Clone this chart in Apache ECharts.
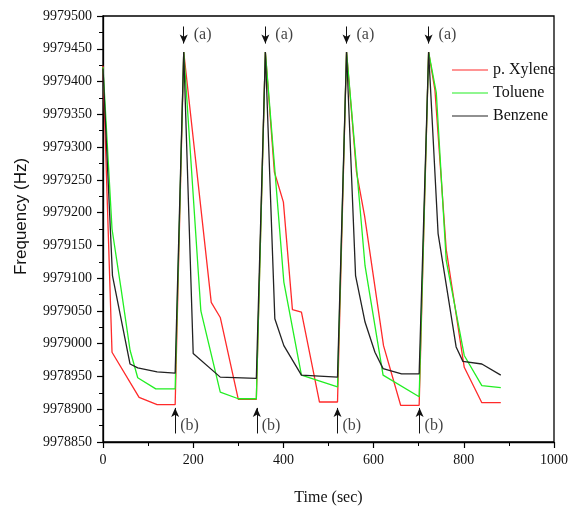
<!DOCTYPE html>
<html>
<head>
<meta charset="utf-8">
<script src="https://cdn.jsdelivr.net/npm/echarts@6/dist/echarts.min.js"></script>
<style>html,body{margin:0;padding:0;background:#fff;}#c{width:571px;height:511px;}</style>
</head>
<body>
<div id="c"></div>
<script>
// ---- data ----
var xyleneT = [0, 20, 80, 120, 160, 179, 240, 260, 300, 340, 360, 380, 400, 420, 440, 480, 520, 540, 562, 580, 622, 660, 701, 722, 736, 761, 801, 840, 882];
var xyleneF = [9979424, 9978987, 9978918, 9978907, 9978907, 9979445, 9979063, 9979040, 9978915, 9978915, 9979445, 9979262, 9979216, 9979052, 9979048, 9978911, 9978911, 9979445, 9979262, 9979195, 9978997, 9978906, 9978906, 9979445, 9979387, 9979144, 9978964, 9978910, 9978910];

var tolueneT = [0, 20, 40, 60, 77, 117, 160, 179, 217, 260, 300, 340, 360, 401, 440, 520, 540, 581, 621, 701, 722, 739, 761, 801, 840, 882];
var tolueneF = [9979422, 9979175, 9979084, 9978990, 9978948, 9978931, 9978931, 9979445, 9979050, 9978926, 9978916, 9978916, 9979445, 9979094, 9978952, 9978934, 9979445, 9979119, 9978952, 9978919, 9979445, 9979383, 9979127, 9978982, 9978936, 9978933];

var benzeneT = [0, 21, 60, 77, 120, 160, 179, 200, 260, 340, 360, 381, 401, 440, 520, 540, 560, 581, 603, 621, 662, 701, 722, 743, 783, 798, 840, 882];
var benzeneF = [9979420, 9979104, 9978969, 9978963, 9978957, 9978955, 9979445, 9978985, 9978949, 9978947, 9979445, 9979038, 9978997, 9978952, 9978949, 9979445, 9979104, 9979033, 9978987, 9978962, 9978954, 9978954, 9979445, 9979168, 9978995, 9978973, 9978969, 9978952];

// annotation positions (time, in data units)
var aTimes = [179, 360, 540, 722];
var bTimes = [160, 341, 520, 702];
var aArrowTop = 9979484, aArrowBottom = 9979458, aLabelY = 9979471;
var bArrowBottom = 9978863, bArrowTop = 9978902, bLabelY = 9978875;

var xTicks = [0, 200, 400, 600, 800, 1000];
var yMin = 9978850, yMax = 9979500, yStep = 50;

function pairs(t, f) { return t.map(function (v, i) { return [v, f[i]]; }); }

var FONT = "'Liberation Serif','Times New Roman',serif";
var chart = echarts.init(document.getElementById('c'), null, { renderer: 'canvas' });

var lineSeries = function (name, t, f, color) {
  return {
    name: name, type: 'line', data: pairs(t, f), symbol: 'none',
    lineStyle: { color: color, width: 1.3 }, itemStyle: { color: color },
    animation: false, z: 3
  };
};

var arrowA = aTimes.map(function (t) {
  return [{ coord: [t, aArrowTop] }, { coord: [t, aArrowBottom] }];
});
var arrowB = bTimes.map(function (t) {
  return [{ coord: [t, bArrowBottom] }, { coord: [t, bArrowTop] }];
});

chart.setOption({
  animation: false,
  backgroundColor: '#fff',
  grid: { left: 103, right: 14, top: 16, bottom: 68, show: true, borderColor: '#000', borderWidth: 1.3 },
  legend: {
    data: ['p. Xylene', 'Toluene', 'Benzene'],
    orient: 'vertical', left: 447, top: 57,
    itemWidth: 36, itemHeight: 12, itemGap: 7,
    textStyle: { fontFamily: FONT, fontSize: 16, color: '#111' },
    icon: 'path://M0,5 L36,5 L36,6.2 L0,6.2 Z'
  },
  xAxis: {
    type: 'value', min: 0, max: 1000, interval: 200,
    name: 'Time (sec)', nameLocation: 'middle', nameGap: 48,
    nameTextStyle: { fontFamily: FONT, fontSize: 16, color: '#111' },
    axisLine: { show: true, lineStyle: { color: '#000', width: 1.3 } },
    axisTick: { show: true, length: 6, lineStyle: { color: '#000', width: 1.2 } },
    minorTick: { show: true, splitNumber: 2, length: 4, lineStyle: { color: '#000', width: 1 } },
    splitLine: { show: false },
    axisLabel: { fontFamily: FONT, fontSize: 14, color: '#111', margin: 11,
      formatter: function (v) { return xTicks.indexOf(v) >= 0 ? String(v) : ''; } }
  },
  yAxis: {
    type: 'value', min: yMin, max: yMax, interval: yStep,
    name: 'Frequency (Hz)', nameLocation: 'middle', nameGap: 73,
    nameTextStyle: { fontFamily: "'Liberation Sans',Arial,sans-serif", fontSize: 17, color: '#111', padding: [0, 0, 0, 25] },
    axisLine: { show: true, lineStyle: { color: '#000', width: 1.3 } },
    axisTick: { show: true, length: 6, lineStyle: { color: '#000', width: 1.2 } },
    minorTick: { show: true, splitNumber: 2, length: 4, lineStyle: { color: '#000', width: 1 } },
    splitLine: { show: false },
    axisLabel: { fontFamily: FONT, fontSize: 14, color: '#111', margin: 11,
      formatter: function (v) { return String(v); } }
  },
  series: [
    lineSeries('p. Xylene', xyleneT, xyleneF, '#ff2a2a'),
    lineSeries('Toluene', tolueneT, tolueneF, '#22ee22'),
    lineSeries('Benzene', benzeneT, benzeneF, '#222222'),
    {
      name: 'annA', type: 'scatter', symbolSize: 0, silent: true, z: 5,
      data: aTimes.map(function (t) { return [t, aLabelY]; }),
      label: { show: true, position: 'right', distance: 10, formatter: '(a)',
        fontFamily: FONT, fontSize: 16, color: '#111' },
      markLine: {
        silent: true, symbol: ['none', 'arrow'], symbolSize: [6, 9],
        lineStyle: { color: '#111', width: 1, type: 'solid' },
        label: { show: false }, data: arrowA, animation: false
      }
    },
    {
      name: 'annB', type: 'scatter', symbolSize: 0, silent: true, z: 5,
      data: bTimes.map(function (t) { return [t, bLabelY]; }),
      label: { show: true, position: 'right', distance: 5, formatter: '(b)',
        fontFamily: FONT, fontSize: 16, color: '#111' },
      markLine: {
        silent: true, symbol: ['none', 'arrow'], symbolSize: [6, 9],
        lineStyle: { color: '#111', width: 1, type: 'solid' },
        label: { show: false }, data: arrowB, animation: false
      }
    }
  ]
});
</script>
</body>
</html>
